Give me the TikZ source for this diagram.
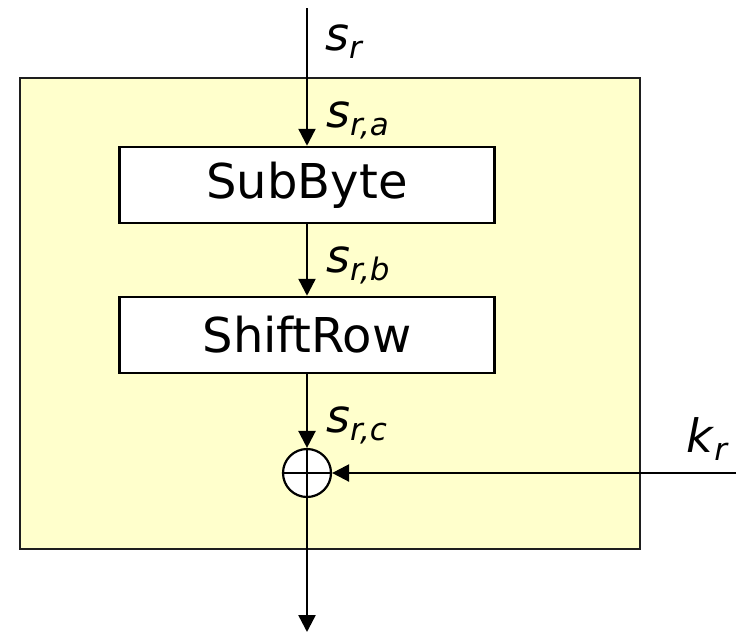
\documentclass[tikz,border=0pt]{standalone}
\usepackage{fontspec}
\setmainfont{DejaVu Sans}
\usetikzlibrary{arrows.meta,calc,positioning}
\definecolor{rdInk}{HTML}{000000}
\definecolor{rdFrame}{HTML}{1E1E1E}
\definecolor{rdPale}{HTML}{FFFFCC}
\newcommand{\rdsym}[2]{\textit{#1}\raisebox{-8pt}{\fontsize{31}{31}\selectfont\itshape #2}}
\tikzset{
  rd round/.style={draw=rdFrame, fill=rdPale, line width=2.2pt},
  rd step/.style={draw=rdInk, fill=white, line width=2.5pt,
    minimum width=375pt, minimum height=76pt, inner sep=0pt,
    font=\fontsize{48}{54}\selectfont},
  rd xor/.style={circle, draw=rdInk, fill=white, line width=2.2pt,
    minimum size=48pt, inner sep=0pt},
  rd flow/.style={draw=rdInk, line width=2.4pt,
    -{Triangle[length=17pt,width=17pt]}},
  rd line/.style={draw=rdInk, line width=2.2pt},
  rd label/.style={font=\fontsize{46}{52}\selectfont, anchor=base west, inner sep=0pt}
}
\begin{document}
\begin{tikzpicture}[x=1pt,y=-1pt]
  \useasboundingbox (0,0) rectangle (738,633);
  \path[rd round] (20,78) rectangle (640,549);
  \coordinate (in) at (307,8);
  \coordinate (out) at (307,632);
  \coordinate (key) at (736,473);

  \node[rd step] (sub) at (307,185) {SubByte};
  \node[rd step] (shift) at (307,335) {ShiftRow};
  \node[rd xor] (xor) at (307,473) {};
  \draw[rd line] (xor.north) -- (xor.south) (xor.west) -- (xor.east);

  \draw[rd flow] (in) -- (sub.north);
  \draw[rd flow] (sub.south) -- (shift.north);
  \draw[rd flow] (shift.south) -- (xor.north);
  \draw[rd flow] (key) -- (xor.east);
  \draw[rd flow] (xor.south) -- (out);

  \node[rd label] (sr) at (325,50) {\rdsym{s}{r}};
  \node[rd label] (sra) at (326,127) {\rdsym{s}{r,a}};
  \node[rd label] (srb) at (326,272) {\rdsym{s}{r,b}};
  \node[rd label] (src) at (326,432) {\rdsym{s}{r,c}};
  \node[rd label] (kr) at (686,452) {\rdsym{k}{r}};
\end{tikzpicture}
\end{document}
